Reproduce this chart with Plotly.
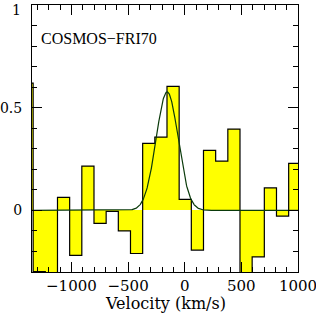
import numpy as np
import plotly.graph_objects as go

# Spectrum: bin centres (km/s) and flux per bin
bin_width = 107.4
velocity = [-1391.5, -1284.1, -1176.7, -1069.3, -961.9, -854.5, -747.1, -639.7,
            -532.3, -424.9, -317.5, -210.1, -102.7, 4.7, 112.1, 219.5, 326.9,
            434.3, 541.7, 649.1, 756.5, 863.9, 971.3]
flux = [0.62, -0.298, -0.40, 0.063, -0.219, 0.216, -0.063, -0.005,
        -0.10, -0.21, 0.326, 0.357, 0.604, 0.054, -0.193, 0.292, 0.24,
        0.396, -0.40, -0.226, 0.11, -0.028, 0.229]

# Gaussian fit parameters
amp, v0, sigma = 0.577, -155.0, 97.0

x_range = [-1348, 1000.05]
y_range = [-0.3, 1.0001]
y_tickvals = [0, 0.5, 1]
y_ticktext = ["0", "0.5", "1"]
label = "COSMOS\u2212FRI70"
x_title = "Velocity (km/s)"

edges = [v - bin_width / 2 for v in velocity] + [velocity[-1] + bin_width / 2]
step_y = flux + [flux[-1]]

vg = np.linspace(x_range[0], x_range[1], 800)
gauss = amp * np.exp(-0.5 * ((vg - v0) / sigma) ** 2)

fig = go.Figure()
fig.add_trace(go.Bar(x=velocity, y=flux, width=bin_width,
                     marker=dict(color="#ffff00", line=dict(width=0)),
                     hoverinfo="skip"))
fig.add_trace(go.Scatter(x=edges, y=step_y, mode="lines",
                         line=dict(color="black", width=1.2, shape="hv"),
                         hoverinfo="skip"))
fig.add_trace(go.Scatter(x=vg, y=gauss, mode="lines",
                         line=dict(color="#0a3a0a", width=1.2),
                         hoverinfo="skip"))

yfont = dict(family="DejaVu Serif", size=14, color="black")
fig.update_layout(
    width=316, height=314,
    margin=dict(l=32, r=18, t=5, b=42),
    paper_bgcolor="white", plot_bgcolor="white",
    showlegend=False, bargap=0,
    xaxis=dict(range=x_range, tick0=0, dtick=500, ticks="inside", ticklen=10,
               tickwidth=1, tickcolor="black", showline=True, linecolor="black",
               linewidth=1, mirror="allticks", showgrid=False, zeroline=False,
               tickfont=dict(family="DejaVu Serif", size=15, color="black"),
               ticklabelstandoff=0, automargin=False, ticklabeloverflow="allow",
               minor=dict(dtick=100, tick0=0, ticks="inside", ticklen=5,
                          tickcolor="black", tickwidth=1, showgrid=False)),
    yaxis=dict(range=y_range, tickmode="array", tickvals=y_tickvals,
               ticktext=y_ticktext[:-1] + [""],
               ticks="inside", ticklen=10,
               tickwidth=1, tickcolor="black", showline=True, linecolor="black",
               linewidth=1, mirror="allticks", showgrid=False, zeroline=False,
               tickfont=yfont,
               ticklabelstandoff=6, automargin=False, ticklabeloverflow="allow",
               minor=dict(dtick=0.1, tick0=0, ticks="inside", ticklen=5,
                          tickcolor="black", tickwidth=1, showgrid=False)),
    annotations=[
        dict(text=label, xref="paper", yref="paper", x=0.028, y=0.875,
             xanchor="left", yanchor="middle", showarrow=False,
             font=dict(family="Liberation Serif", size=16, color="black")),
        dict(text=x_title, xref="paper", yref="paper", x=0.5, y=-0.118,
             xanchor="center", yanchor="middle", showarrow=False,
             font=dict(family="DejaVu Serif", size=16, color="black")),
        dict(text=y_ticktext[-1], xref="paper", yref="paper", x=-0.035, y=1.0187,
             xanchor="right", yanchor="top", showarrow=False, font=yfont),
    ],
)
fig.write_html("out.html", config={"displayModeBar": False},
               post_script="document.body.style.margin='0';")
